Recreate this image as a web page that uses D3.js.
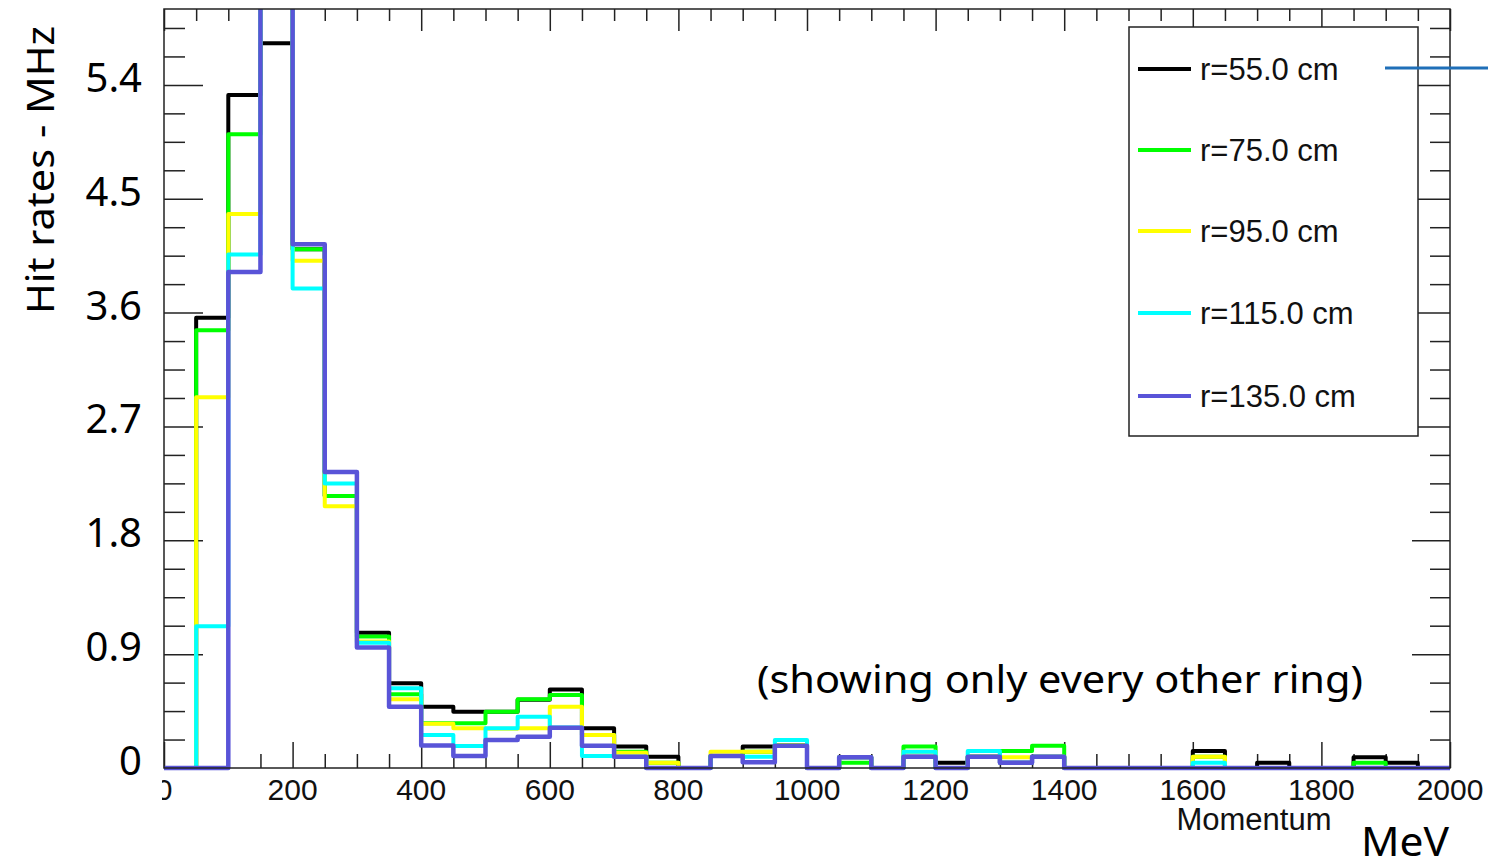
<!DOCTYPE html>
<html>
<head>
<meta charset="utf-8">
<script src="https://cdn.jsdelivr.net/npm/d3@7"></script>
<style>
  body { margin: 0; background: #fff; }
  svg { display: block; }
  .root-text { font-family: "Liberation Sans", Arial, sans-serif; }
  .ppt-text { font-family: "Noto Sans", "Open Sans", sans-serif; }
</style>
</head>
<body>
<div id="chart"></div>
<script>
// 50 MeV momentum bins, 0..2000
var binWidth = 50;
var binEdges = d3.range(0, 2000, binWidth);

var radii = ["r=55.0 cm", "r=75.0 cm", "r=95.0 cm", "r=115.0 cm", "r=135.0 cm"];
var colors = ["#000000", "#00ff00", "#ffff00", "#00ffff", "#5954d8"];

// hit rates (MHz) per bin
var r55 = [0, 3.56, 5.32, 5.73, 4.10, 2.15, 1.07, 0.67, 0.485, 0.445,
  0.445, 0.54, 0.62, 0.314, 0.169, 0.089, 0, 0.095, 0.169, 0.18,
  0, 0.084, 0, 0.089, 0.042, 0.089, 0.042, 0.089, 0, 0,
  0, 0, 0.134, 0, 0.042, 0, 0, 0.084, 0.042, 0];
var r75 = [0, 3.46, 5.01, 6.2, 4.10, 2.15, 1.04, 0.583, 0.353, 0.353,
  0.445, 0.543, 0.577, 0.261, 0.129, 0.042, 0, 0.095, 0.129, 0.18,
  0, 0.042, 0, 0.169, 0, 0.089, 0.134, 0.176, 0, 0,
  0, 0, 0.089, 0, 0, 0, 0, 0.042, 0, 0];
var r95 = [0, 2.93, 4.38, 6.4, 4.01, 2.07, 1.0, 0.543, 0.35, 0.314,
  0.31, 0.314, 0.485, 0.26, 0.12, 0.042, 0, 0.129, 0.129, 0.18,
  0, 0.084, 0, 0.129, 0, 0.089, 0.084, 0.089, 0, 0,
  0, 0, 0.089, 0, 0, 0, 0, 0, 0, 0];
var r115 = [0, 1.12, 4.06, 6.6, 3.79, 2.25, 0.99, 0.63, 0.261, 0.174,
  0.314, 0.406, 0.32, 0.095, 0.089, 0, 0, 0.095, 0.089, 0.221,
  0, 0.084, 0, 0.129, 0, 0.134, 0.042, 0.089, 0, 0,
  0, 0, 0.042, 0, 0, 0, 0, 0, 0, 0];
var r135 = [0, 0, 3.92, 6.9, 4.14, 2.34, 0.952, 0.485, 0.177, 0.095,
  0.221, 0.248, 0.319, 0.176, 0.089, 0, 0, 0.095, 0.045, 0.176,
  0, 0.084, 0, 0.089, 0, 0.089, 0.042, 0.089, 0, 0,
  0, 0, 0, 0, 0, 0, 0, 0, 0, 0];
var series = [r55, r75, r95, r115, r135];

var xMajor = [0, 200, 400, 600, 800, 1000, 1200, 1400, 1600, 1800, 2000];
var yMajor = [0, 0.9, 1.8, 2.7, 3.6, 4.5, 5.4];
var yLabels = ["0", "0.9", "1.8", "2.7", "3.6", "4.5", "5.4"];

var width = 1488, height = 862;
var frameL = 164, frameR = 1450, frameT = 9, frameB = 768;

var svg = d3.select("#chart").append("svg")
    .attr("width", width)
    .attr("height", height);

var x = d3.scaleLinear().domain([0, 2000]).range([frameL, frameR]);
var y = d3.scaleLinear().domain([0, 6.0]).range([frameB, frameT]);

var xMinor = d3.range(0, 2001, 50).filter(function(v) { return v % 200 != 0; });
var yMinor = d3.range(0, 27).map(function(k) { return +(k * 0.225).toFixed(3); })
    .filter(function(v) { return yMajor.indexOf(v) < 0; });

// ticks, drawn with d3 axes and no domain line
function ticks(axis, transform) {
  var g = svg.append("g").attr("transform", transform).call(axis);
  g.select(".domain").remove();
  g.selectAll("line").attr("stroke", "#222").attr("stroke-width", 1.5);
  g.selectAll("text").remove();
  return g;
}
ticks(d3.axisTop(x).tickValues(xMinor).tickSize(14), "translate(0," + frameB + ")");
ticks(d3.axisTop(x).tickValues(xMajor).tickSize(26), "translate(0," + frameB + ")");
ticks(d3.axisBottom(x).tickValues(xMinor).tickSize(12), "translate(0," + frameT + ")");
ticks(d3.axisBottom(x).tickValues(xMajor).tickSize(22), "translate(0," + frameT + ")");
ticks(d3.axisRight(y).tickValues(yMinor).tickSize(21), "translate(" + frameL + ",0)");
ticks(d3.axisRight(y).tickValues(yMajor).tickSize(39), "translate(" + frameL + ",0)");
ticks(d3.axisLeft(y).tickValues(yMinor).tickSize(20), "translate(" + frameR + ",0)");
ticks(d3.axisLeft(y).tickValues(yMajor).tickSize(38), "translate(" + frameR + ",0)");

// histograms
svg.append("clipPath").attr("id", "plotclip")
  .append("rect")
    .attr("x", frameL - 4).attr("y", frameT)
    .attr("width", frameR - frameL + 8).attr("height", frameB - frameT + 12);

var step = d3.line()
    .x(function(d) { return x(d[0]); })
    .y(function(d) { return y(d[1]); })
    .curve(d3.curveStepAfter);

svg.append("g").attr("clip-path", "url(#plotclip)")
  .selectAll("path")
    .data(series)
  .enter().append("path")
    .attr("d", function(vals) {
      var pts = binEdges.map(function(e, i) { return [e, vals[i]]; });
      pts.push([2000, vals[vals.length - 1]]);
      return step(pts);
    })
    .attr("fill", "none")
    .attr("stroke", function(d, i) { return colors[i]; })
    .attr("stroke-width", function(d, i) { return i == 4 ? 4.5 : 4; })
    .attr("stroke-linejoin", "round");

// frame
svg.append("rect")
    .attr("x", frameL).attr("y", frameT)
    .attr("width", frameR - frameL).attr("height", frameB - frameT)
    .attr("fill", "none")
    .attr("stroke", "#222")
    .attr("stroke-width", 1.5);

// x tick labels (the "0" is cut at the left edge in the original)
svg.append("clipPath").attr("id", "xlabclip")
  .append("rect").attr("x", 162).attr("y", 760).attr("width", 1326).attr("height", 60);

svg.append("g").attr("clip-path", "url(#xlabclip)")
  .selectAll("text")
    .data(xMajor)
  .enter().append("text")
    .attr("class", "root-text")
    .attr("x", function(d) { return x(d); })
    .attr("y", 800)
    .attr("text-anchor", "middle")
    .attr("font-size", 30)
    .attr("fill", "#111")
    .text(function(d) { return d; });

svg.append("text")
    .attr("class", "root-text")
    .attr("x", 1254).attr("y", 830)
    .attr("text-anchor", "middle")
    .attr("font-size", 31)
    .attr("fill", "#111")
    .text("Momentum");

// y tick labels
svg.append("g").selectAll("text")
    .data(yMajor)
  .enter().append("text")
    .attr("class", "ppt-text")
    .attr("x", 142)
    .attr("y", function(d) { return y(d) - 7; })
    .attr("dy", "0.35em")
    .attr("text-anchor", "end")
    .attr("font-size", 40)
    .text(function(d, i) { return yLabels[i]; });

svg.append("text")
    .attr("class", "ppt-text")
    .attr("transform", "translate(54,170) rotate(-90)")
    .attr("text-anchor", "middle")
    .attr("font-size", 39)
    .attr("textLength", 288)
    .attr("lengthAdjust", "spacingAndGlyphs")
    .text("Hit rates - MHz");

svg.append("text")
    .attr("class", "ppt-text")
    .attr("x", 1060).attr("y", 679)
    .attr("dy", "0.35em")
    .attr("text-anchor", "middle")
    .attr("font-size", 39)
    .attr("textLength", 606)
    .attr("lengthAdjust", "spacingAndGlyphs")
    .text("(showing only every other ring)");

svg.append("text")
    .attr("class", "ppt-text")
    .attr("x", 1405).attr("y", 856)
    .attr("text-anchor", "middle")
    .attr("font-size", 40)
    .attr("textLength", 88)
    .attr("lengthAdjust", "spacingAndGlyphs")
    .text("MeV");

// legend
var legend = svg.append("g");
legend.append("rect")
    .attr("x", 1129).attr("y", 27)
    .attr("width", 289).attr("height", 409)
    .attr("fill", "#fff")
    .attr("stroke", "#222")
    .attr("stroke-width", 1.5);

var legendY = [69, 150, 231, 313, 396];
var item = legend.selectAll("g.item")
    .data(radii)
  .enter().append("g")
    .attr("class", "item")
    .attr("transform", function(d, i) { return "translate(0," + legendY[i] + ")"; });
item.append("line")
    .attr("x1", 1138).attr("x2", 1191)
    .attr("stroke", function(d, i) { return colors[i]; })
    .attr("stroke-width", 4);
item.append("text")
    .attr("class", "root-text")
    .attr("x", 1200)
    .attr("dy", "0.35em")
    .attr("font-size", 31)
    .attr("fill", "#111")
    .text(function(d) { return d; });

// stray connector line at the top right
svg.append("line")
    .attr("x1", 1385).attr("x2", 1488)
    .attr("y1", 68).attr("y2", 68)
    .attr("stroke", "#1f6fb8")
    .attr("stroke-width", 3);
</script>
</body>
</html>
